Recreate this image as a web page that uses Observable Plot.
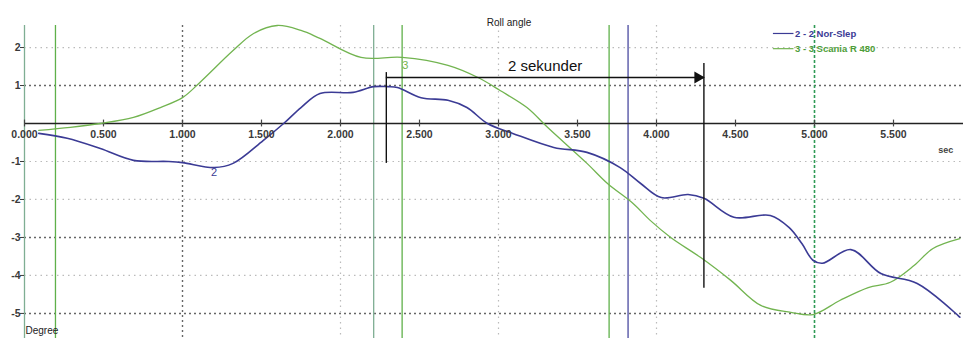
<!DOCTYPE html>
<html>
<head>
<meta charset="utf-8">
<script src="https://cdn.jsdelivr.net/npm/d3@7"></script>
<script src="https://cdn.jsdelivr.net/npm/@observablehq/plot@0.6"></script>
<style>
  html, body { margin: 0; padding: 0; background: #fff; }
  #chart svg { display: block; }
</style>
</head>
<body>
<div id="chart"></div>
<script>
// ---- data (time in seconds, roll angle in degrees) ----
const blueT = [0.09, 0.27, 0.48, 0.69, 0.91, 1.0, 1.2, 1.32, 1.51, 1.64, 1.75, 1.87, 2.08, 2.21, 2.30, 2.36, 2.51, 2.68, 2.80, 2.93, 3.09, 3.35, 3.56, 3.77, 3.90, 4.03, 4.20, 4.30, 4.49, 4.72, 4.84, 4.92, 4.99, 5.05, 5.23, 5.42, 5.65, 5.92];
const blueV = [-0.26, -0.39, -0.66, -0.97, -1.0, -1.03, -1.16, -1.05, -0.45, 0.0, 0.42, 0.79, 0.82, 0.97, 0.97, 0.95, 0.68, 0.61, 0.42, 0.0, -0.26, -0.63, -0.76, -1.16, -1.58, -1.95, -1.87, -1.97, -2.47, -2.42, -2.74, -3.16, -3.6, -3.68, -3.32, -3.95, -4.21, -5.1];
const greenT = [0.09, 0.29, 0.48, 0.69, 0.86, 1.0, 1.11, 1.32, 1.45, 1.60, 1.75, 1.87, 2.13, 2.39, 2.68, 2.87, 3.01, 3.18, 3.31, 3.56, 3.69, 3.85, 3.96, 4.09, 4.28, 4.47, 4.66, 4.85, 4.99, 5.16, 5.34, 5.48, 5.63, 5.75, 5.92];
const greenV = [-0.18, -0.1, 0.0, 0.16, 0.42, 0.68, 1.08, 1.92, 2.37, 2.58, 2.45, 2.24, 1.74, 1.74, 1.53, 1.21, 0.87, 0.42, -0.1, -1.05, -1.58, -2.1, -2.55, -3.0, -3.53, -4.13, -4.79, -4.97, -5.03, -4.66, -4.32, -4.18, -3.74, -3.29, -3.03];

const xTicks = [0, 0.5, 1, 1.5, 2, 2.5, 3, 3.5, 4, 4.5, 5, 5.5];
const yTicks = [2, 1, -1, -2, -3, -4, -5];
const yGridStrong = [1, -3, -5];
const yGridLight = [2, -1, -2, -4];
const xGridStrong = [1];
const xGridLight = [2, 3, 4];

// cursor / event lines (seconds)
const tealMarkers = [0, 2.21];
const greenMarkers = [0.196, 2.39, 3.70];
const blueMarkers = [3.82];
const dashedMarkers = [5.0];

// "2 sekunder" bracket
const bracketStart = 2.29;
const bracketEnd = 4.30;
const bracketLevel = 1.21;
const bracketLeftSpan = [1.34, -1.05];
const bracketRightSpan = [1.58, -4.34];

const seriesNames = ["2 - 2 Nor-Slep", "3 - 3 Scania R 480"];
const seriesLabels = [{t: 1.2, v: -1.3, s: "2"}, {t: 2.41, v: 1.52, s: "3"}];
const legendT = [4.74, 4.87];
const legendV = [2.37, 1.97];

const blue = blueT.map((t, i) => ({t, v: blueV[i]}));
const green = greenT.map((t, i) => ({t, v: greenV[i]}));

const BLUE = "#3b3b95";
const GREEN = "#72b450";
const font = "Liberation Sans, Arial, sans-serif";

const chart = Plot.plot({
  width: 963,
  height: 338,
  marginLeft: 24,
  marginRight: 0,
  marginTop: 25,
  marginBottom: 0,
  style: {fontFamily: font, background: "#fff"},
  x: {domain: [0, 5.943], axis: null},
  y: {domain: [-5.66, 2.58], axis: null},
  marks: [
    // grid
    Plot.ruleY(yGridLight, {stroke: "#bbb", strokeDasharray: "1.5,4", strokeWidth: 1.2}),
    Plot.ruleY(yGridStrong, {stroke: "#666", strokeDasharray: "2,3", strokeWidth: 1.4}),
    Plot.ruleX(xGridLight, {stroke: "#bbb", strokeDasharray: "1.5,4", strokeWidth: 1.2}),
    Plot.ruleX(xGridStrong, {stroke: "#666", strokeDasharray: "2,3", strokeWidth: 1.4}),
    // cursor lines
    Plot.ruleX(tealMarkers, {stroke: "#7fae93", strokeWidth: 1.3}),
    Plot.ruleX(greenMarkers, {stroke: "#5fb04a", strokeWidth: 1.3}),
    Plot.ruleX(blueMarkers, {stroke: "#4a4aa0", strokeWidth: 1.3}),
    Plot.ruleX(dashedMarkers, {stroke: "#2f9a55", strokeWidth: 1.6, strokeDasharray: "3,2"}),
    // x axis line, ticks, labels
    Plot.ruleY([0], {x1: 0, x2: 5.943, stroke: "#222", strokeWidth: 1.5}),
    Plot.ruleX(xTicks, {y1: -0.09, y2: 0.09, stroke: "#444", strokeWidth: 1.2}),
    // series
    Plot.line(green, {x: "t", y: "v", stroke: GREEN, strokeWidth: 1.3, curve: "catmull-rom"}),
    Plot.line(blue, {x: "t", y: "v", stroke: BLUE, strokeWidth: 1.6, curve: "catmull-rom"}),
    Plot.text(xTicks, {x: d => d, y: 0, dy: 11, text: d => d3.format(".3f")(d), fontSize: 10.5, fontWeight: "bold", fill: "#3a3a3a"}),
    // y axis
    Plot.axisY(yTicks, {anchor: "left", label: null, tickSize: 4, tickPadding: 0, fontSize: 10.5, fontWeight: "bold", color: "#3a3a3a", tickFormat: d => d}),
    Plot.text(seriesLabels, {x: "t", y: "v", text: "s", fontSize: 11, fill: (d) => d.s === "2" ? BLUE : GREEN}),
    // bracket annotation
    Plot.ruleX([bracketStart], {y1: bracketLeftSpan[0], y2: bracketLeftSpan[1], stroke: "#111", strokeWidth: 1.4}),
    Plot.ruleX([bracketEnd], {y1: bracketRightSpan[0], y2: bracketRightSpan[1], stroke: "#111", strokeWidth: 1.4}),
    Plot.ruleY([bracketLevel], {x1: bracketStart, x2: bracketEnd, stroke: "#111", strokeWidth: 1.4}),
    Plot.dot([bracketEnd], {x: d => d, y: bracketLevel, symbol: "triangle", rotate: 90, r: 4.5, fill: "#111", dx: -6}),
    Plot.text(["2 sekunder"], {x: (bracketStart + bracketEnd) / 2, y: bracketLevel, dy: -11, text: d => d, fontSize: 15, fill: "#111"}),
    // title, axis names
    Plot.text(["Roll angle"], {frameAnchor: "top", dy: -7, text: d => d, fontSize: 10, fill: "#222", dx: 15}),
    Plot.text(["sec"], {x: 5.83, y: -0.71, text: d => d, fontSize: 9, fontWeight: "bold", fill: "#444"}),
    Plot.text(["Degree"], {x: 0, y: -5.47, text: d => d, textAnchor: "start", dx: 1, fontSize: 10, fill: "#222"}),
    // legend
    Plot.ruleY([legendV[0]], {x1: legendT[0], x2: legendT[1], stroke: BLUE, strokeWidth: 1.2}),
    Plot.ruleY([legendV[1]], {x1: legendT[0], x2: legendT[1], stroke: GREEN, strokeWidth: 1.2}),
    Plot.text([seriesNames[0]], {x: legendT[1], y: legendV[0], text: d => d, textAnchor: "start", dx: 1, fontSize: 9.5, fontWeight: "bold", fill: BLUE}),
    Plot.text([seriesNames[1]], {x: legendT[1], y: legendV[1], text: d => d, textAnchor: "start", dx: 1, fontSize: 9.5, fontWeight: "bold", fill: "#4e9e38"})
  ]
});
document.getElementById("chart").appendChild(chart);
</script>
</body>
</html>
